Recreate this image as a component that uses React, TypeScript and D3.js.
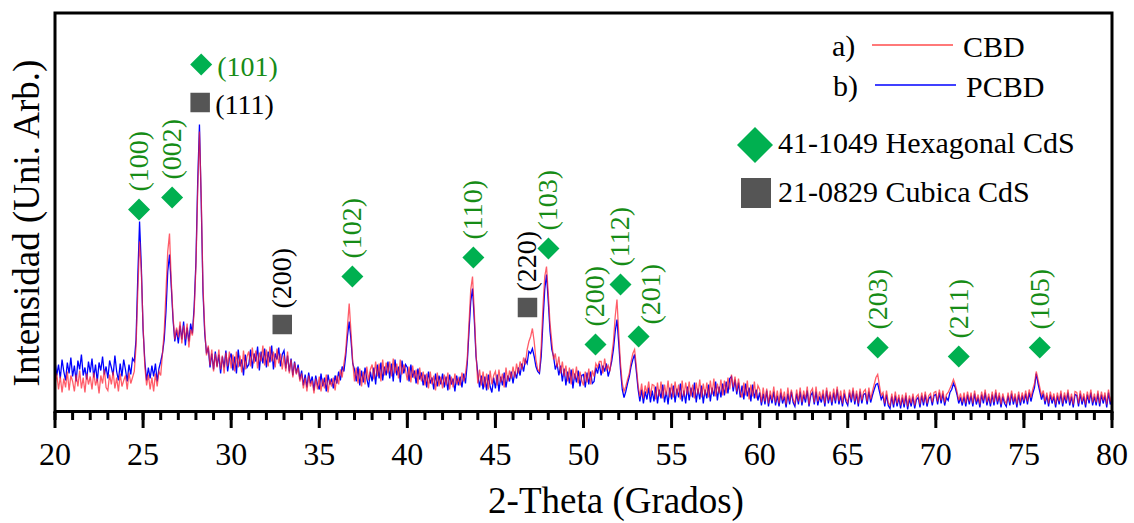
import React, { useEffect } from "react";
import * as d3 from "d3";

// intensity, one row per degree (0.1 deg steps), 20..80
const pcbd = [
  50, 36, 47, 33, 52, 40, 31, 49, 38, 54,
  35, 46, 30, 51, 42, 57, 36, 44, 32, 50,
  39, 53, 34, 47, 30, 49, 41, 55, 37, 45,
  33, 51, 44, 36, 56, 40, 31, 48, 35, 52,
  42, 30, 47, 37, 53, 50, 72, 135, 190, 145,
  82, 50, 31, 44, 33, 46, 35, 48, 30, 43,
  50, 58, 72, 100, 140, 157, 125, 92, 70, 82,
  68, 86, 72, 90, 66, 84, 70, 88, 78, 105,
  150, 230, 287, 210, 120, 78, 58, 64, 44, 58,
  42, 60, 45, 57, 38, 55, 44, 61, 40, 53,
  58, 41, 55, 38, 62, 45, 52, 36, 57, 44,
  47, 62, 43, 58, 50, 65, 41, 60, 48, 63,
  44, 60, 49, 66, 42, 58, 52, 64, 45, 57,
  61, 43, 56, 40, 53, 36, 50, 38, 47, 32,
  41, 26, 37, 24, 39, 28, 35, 21, 36, 27,
  22, 38, 25, 34, 20, 37, 27, 33, 23, 36,
  28, 40, 31, 45, 40, 55, 75, 90, 72, 48,
  42, 30, 45, 26, 41, 29, 44, 33, 24, 40,
  30, 44, 27, 47, 33, 49, 31, 45, 36, 50,
  33, 48, 30, 52, 36, 45, 29, 51, 38, 47,
  44, 30, 47, 34, 41, 28, 43, 32, 39, 26,
  37, 24, 40, 28, 34, 22, 38, 25, 36, 27,
  38, 24, 35, 21, 37, 27, 33, 20, 36, 26,
  35, 24, 38, 28, 48, 80, 110, 123, 92, 55,
  38, 24, 36, 22, 35, 21, 37, 25, 19, 34,
  23, 37, 20, 35, 26, 39, 24, 36, 30, 40,
  28, 40, 33, 44, 36, 48, 40, 52, 48, 60,
  58, 63, 55, 45, 40, 38, 55, 90, 122, 137,
  110, 80, 62, 55, 42, 48, 36, 46, 30, 43,
  26, 40, 28, 42, 23, 38, 29, 41, 25, 36,
  37, 24, 39, 27, 40, 28, 30, 44, 38, 48,
  36, 46, 40, 48, 35, 42, 50, 62, 80, 92,
  68, 42, 22, 14, 20, 28, 35, 45, 52, 57,
  40, 22, 10, 22, 8, 20, 12, 24, 9, 21,
  10, 25, 8, 22, 13, 27, 9, 20, 7, 24,
  12, 26, 9, 23, 14, 28, 10, 21, 8, 25,
  11, 24, 14, 29, 9, 23, 12, 26, 8, 22,
  13, 27, 10, 24, 15, 30, 11, 25, 14, 28,
  16, 30, 18, 33, 35, 20, 32, 17, 29, 14,
  26, 12, 28, 15, 24, 10, 27, 13, 22, 11,
  19, 6, 18, 7, 21, 5, 17, 8, 20, 6,
  16, 5, 19, 8, 15, 4, 18, 7, 20, 9,
  5, 18, 7, 20, 6, 17, 9, 21, 5, 16,
  19, 7, 20, 6, 15, 9, 18, 5, 21, 8,
  17, 6, 19, 8, 22, 7, 16, 5, 18, 10,
  6, 19, 9, 21, 7, 18, 5, 20, 8, 17,
  18, 7, 20, 9, 16, 22, 27, 28, 20, 12,
  16, 5, 17, 6, 3, 15, 4, 16, 5, 14,
  3, 14, 4, 16, 2, 13, 5, 15, 3, 12,
  14, 4, 16, 6, 17, 5, 13, 15, 6, 16,
  17, 7, 19, 8, 18, 6, 14, 11, 19, 22,
  28, 24, 17, 8, 14, 6, 15, 5, 17, 7,
  16, 5, 18, 7, 14, 4, 17, 8, 19, 6,
  15, 5, 17, 6, 19, 7, 16, 4, 15, 8,
  5, 16, 6, 18, 7, 15, 4, 17, 6, 16,
  8, 18, 7, 19, 10, 18, 24, 38, 28, 20,
  12, 18, 7, 16, 5, 17, 8, 15, 4, 16,
  7, 18, 5, 16, 8, 19, 6, 15, 4, 17,
  16, 5, 18, 7, 15, 4, 17, 8, 19, 6,
  15, 6, 18, 5, 17, 8, 16, 4, 19, 7,
  14,
];

const cbd = [
  26, 38, 22, 35, 19, 33, 24, 40, 21, 36,
  30, 20, 37, 25, 41, 23, 34, 19, 38, 27,
  35, 22, 39, 26, 33, 18, 36, 28, 42, 24,
  21, 37, 27, 40, 23, 34, 20, 38, 25, 31,
  36, 22, 39, 28, 34, 40, 65, 120, 170, 140,
  85, 45, 26, 37, 22, 34, 20, 38, 25, 40,
  36, 58, 80, 120, 160, 178, 130, 95, 72, 84,
  74, 90, 68, 86, 72, 88, 64, 82, 76, 100,
  145, 220, 280, 215, 125, 82, 56, 66, 46, 62,
  40, 58, 44, 62, 42, 56, 38, 59, 45, 60,
  43, 57, 40, 60, 44, 56, 39, 61, 42, 55,
  60, 45, 64, 48, 61, 43, 59, 50, 66, 46,
  62, 45, 65, 50, 60, 44, 63, 48, 58, 42,
  56, 40, 60, 38, 52, 34, 49, 37, 44, 30,
  38, 23, 34, 20, 36, 25, 31, 18, 33, 22,
  35, 20, 33, 23, 37, 19, 32, 25, 34, 21,
  36, 27, 42, 34, 48, 60, 85, 108, 80, 50,
  30, 44, 28, 43, 25, 40, 27, 45, 31, 42,
  47, 32, 50, 35, 48, 30, 52, 36, 49, 38,
  50, 35, 53, 38, 48, 33, 52, 37, 47, 41,
  31, 45, 29, 46, 33, 42, 27, 44, 30, 40,
  26, 38, 23, 40, 27, 36, 21, 39, 25, 35,
  23, 37, 26, 39, 22, 35, 24, 38, 27, 33,
  26, 39, 30, 38, 52, 88, 122, 135, 100, 58,
  28, 42, 26, 40, 24, 38, 22, 41, 27, 36,
  40, 26, 42, 29, 38, 24, 44, 30, 41, 33,
  45, 34, 48, 38, 50, 42, 54, 47, 62, 70,
  75, 83, 70, 52, 42, 40, 65, 105, 135, 145,
  118, 88, 70, 52, 58, 44, 55, 38, 50, 35,
  46, 30, 44, 27, 43, 32, 45, 28, 40, 31,
  26, 40, 29, 43, 27, 41, 35, 48, 44, 50,
  50, 38, 53, 42, 46, 40, 56, 70, 95, 112,
  78, 48, 28, 20, 25, 32, 38, 50, 58, 62,
  45, 26, 15, 28, 13, 26, 18, 30, 15, 27,
  26, 12, 29, 15, 30, 13, 27, 16, 31, 14,
  28, 14, 30, 16, 27, 12, 31, 15, 29, 17,
  30, 15, 27, 13, 29, 17, 32, 14, 28, 16,
  29, 14, 31, 17, 33, 15, 28, 18, 32, 16,
  31, 18, 34, 22, 37, 24, 35, 20, 33, 19,
  14, 29, 16, 31, 12, 27, 15, 30, 13, 26,
  22, 9, 24, 10, 23, 8, 21, 11, 25, 9,
  21, 8, 23, 11, 20, 7, 24, 10, 22, 12,
  8, 22, 10, 24, 9, 21, 12, 25, 7, 20,
  23, 9, 25, 10, 20, 12, 22, 8, 24, 11,
  20, 9, 23, 11, 25, 10, 21, 8, 22, 13,
  9, 22, 12, 24, 10, 21, 8, 23, 11, 20,
  22, 10, 24, 12, 20, 27, 34, 37, 26, 16,
  19, 8, 21, 9, 6, 18, 7, 20, 8, 17,
  6, 17, 7, 19, 5, 16, 8, 18, 6, 15,
  17, 7, 19, 9, 20, 8, 16, 18, 9, 19,
  20, 10, 22, 11, 21, 9, 17, 19, 23, 27,
  32, 27, 20, 11, 18, 9, 19, 8, 20, 10,
  19, 8, 21, 10, 17, 7, 20, 11, 22, 9,
  18, 8, 20, 9, 22, 10, 19, 7, 18, 11,
  8, 19, 9, 21, 10, 18, 7, 20, 9, 19,
  11, 21, 10, 22, 14, 22, 28, 40, 32, 24,
  16, 21, 10, 19, 8, 20, 11, 18, 7, 19,
  10, 21, 8, 19, 11, 22, 9, 18, 7, 20,
  19, 8, 21, 10, 18, 7, 20, 11, 22, 9,
  18, 9, 21, 8, 20, 11, 19, 7, 22, 10,
  17,
];

const angles = pcbd.map((_, i) => 20 + i * 0.1);

const xTicks = [20, 25, 30, 35, 40, 45, 50, 55, 60, 65, 70, 75, 80];
const xMinor = d3.range(20, 81, 1);

// 41-1049 hexagonal CdS reflections (marker angle / marker height)
const hexLabels = ["(100)", "(002)", "(101)", "(102)", "(110)", "(103)", "(200)", "(112)", "(201)", "(203)", "(211)", "(105)"];
const hexAngles = [24.77, 26.65, 28.3, 36.88, 43.75, 48.01, 50.68, 52.1, 53.13, 66.7, 71.3, 75.9];
const hexLevels = [202, 214, 347, 135, 154, 163, 67, 127, 75, 64, 55, 64];

// 21-0829 cubic CdS reflections
const cubLabels = ["(111)", "(200)", "(220)"];
const cubAngles = [28.24, 32.9, 46.82];
const cubLevels = [309, 87, 104];

const seriesNames = ["CBD", "PCBD"];
const seriesTags = ["a)", "b)"];
const phaseNames = ["41-1049 Hexagonal CdS", "21-0829 Cubica CdS"];

const FONT = "Liberation Serif, Times New Roman, Tinos, DejaVu Serif, serif";
const GREEN = "#00b050";
const GREEN_TEXT = "#168c16";
const GREY = "#555555";

function App() {
  useEffect(() => {
    document.body.style.margin = "0";
  }, []);

  const width = 1134;
  const height = 523;
  const left = 55;
  const right = 1112;
  const top = 13;
  const bottom = 411.5;

  const xScale = d3.scaleLinear().domain([20, 80]).range([left, right]);
  const yScale = d3.scaleLinear().domain([0, 398.5]).range([bottom, top]);

  const line = d3
    .line<number>()
    .x((d, i) => xScale(angles[i]))
    .y((d) => yScale(d));

  const diamond = d3.symbol(d3.symbolSquare, 242)();
  const diamondBig = d3.symbol(d3.symbolSquare, 650)();
  const square = d3.symbol(d3.symbolSquare, 380)();
  const squareBig = d3.symbol(d3.symbolSquare, 900)();

  const flat = (l) => l === "(101)" || l === "(111)";

  return (
    <svg
      width={width}
      height={height}
      style={{ position: "absolute", left: 0, top: 0, background: "#fff", fontFamily: FONT }}
    >
      <defs>
        <clipPath id="plot">
          <rect x={left} y={top} width={right - left} height={bottom - top} />
        </clipPath>
      </defs>

      {/* traces */}
      <g clipPath="url(#plot)">
        <path d={line(pcbd)} fill="none" stroke="#0000ff" strokeWidth={1.3} />
        <path d={line(cbd)} fill="none" stroke="#ff1f2f" strokeWidth={1.3} strokeOpacity={0.72} />
      </g>

      {/* frame */}
      <rect x={left} y={top} width={right - left} height={bottom - top} fill="none" stroke="#000" strokeWidth={3} />

      {/* x ticks */}
      {xMinor.map((t) => (
        <line key={"m" + t} x1={xScale(t)} x2={xScale(t)} y1={bottom} y2={420} stroke="#000" strokeWidth={3} />
      ))}
      {xTicks.map((t) => (
        <g key={t}>
          <line x1={xScale(t)} x2={xScale(t)} y1={bottom} y2={428} stroke="#000" strokeWidth={3} />
          <text x={xScale(t)} y={465} textAnchor="middle" fontSize={32}>
            {t}
          </text>
        </g>
      ))}

      <text x={616} y={513} textAnchor="middle" fontSize={37}>
        2-Theta (Grados)
      </text>
      <text transform="translate(39,223) rotate(-90)" textAnchor="middle" fontSize={37}>
        Intensidad (Uni. Arb.)
      </text>

      {/* hexagonal markers */}
      {hexLabels.map((l, i) => {
        const cx = xScale(hexAngles[i]);
        const cy = yScale(hexLevels[i]);
        const dx = l === "(201)" ? 21 : 9;
        const dy = l === "(201)" ? -12 : -18;
        return (
          <g key={"h" + i}>
            <path d={diamond} transform={`translate(${cx},${cy}) rotate(45)`} fill={GREEN} />
            {flat(l) ? (
              <text x={cx + 16} y={cy + 11} fontSize={28} fill={GREEN_TEXT}>
                {l}
              </text>
            ) : (
              <text transform={`translate(${cx + dx},${cy + dy}) rotate(-90)`} fontSize={28} fill={GREEN_TEXT}>
                {l}
              </text>
            )}
          </g>
        );
      })}

      {/* cubic markers */}
      {cubLabels.map((l, i) => {
        const cx = xScale(cubAngles[i]);
        const cy = yScale(cubLevels[i]);
        return (
          <g key={"c" + i}>
            <path d={square} transform={`translate(${cx},${cy})`} fill={GREY} />
            {flat(l) ? (
              <text x={cx + 15} y={cy + 11} fontSize={28} fill="#000">
                {l}
              </text>
            ) : (
              <text transform={`translate(${cx + 9},${cy - 16}) rotate(-90)`} fontSize={28} fill="#000">
                {l}
              </text>
            )}
          </g>
        );
      })}

      {/* legend */}
      <g fontSize={30}>
        <text x={832} y={56}>{seriesTags[0]}</text>
        <line x1={872} x2={953} y1={45} y2={45} stroke="#ff4d4d" strokeWidth={1.5} />
        <text x={963} y={57}>{seriesNames[0]}</text>
        <text x={833} y={96}>{seriesTags[1]}</text>
        <line x1={875} x2={956} y1={85} y2={85} stroke="#0000ff" strokeWidth={1.5} />
        <text x={966} y={97}>{seriesNames[1]}</text>

        <path d={diamondBig} transform="translate(755,145) rotate(45)" fill={GREEN} />
        <text x={778} y={153}>{phaseNames[0]}</text>
        <path d={squareBig} transform="translate(756,193)" fill={GREY} />
        <text x={778} y={202}>{phaseNames[1]}</text>
      </g>
    </svg>
  );
}

export default App;
